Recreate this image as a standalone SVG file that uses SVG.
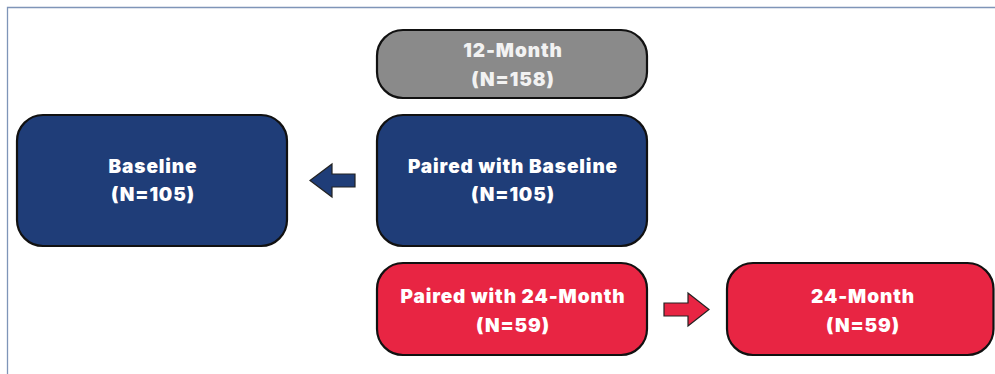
<svg xmlns="http://www.w3.org/2000/svg" width="995" height="374" viewBox="0 0 995 374">
<style>
.box{stroke:#111;stroke-width:2.2}
.gray{fill:#8a8a8a}
.blue{fill:#1f3d78}
.red{fill:#e82543}
text{font-family:Inter,"Noto Sans",sans-serif;font-weight:900;font-size:19px;letter-spacing:0.9px;fill:#fff;text-anchor:middle}
.g{fill:#f2f2f2}
.arr{stroke:#222;stroke-width:1.2}
</style>
<rect width="995" height="374" fill="#fff"/>
<path d="M7.5,374 V7.5 H995" fill="none" stroke="#7f95b8" stroke-width="1.3"/>
<g id="n12month">
<rect class="box gray" x="377" y="30" width="270" height="68" rx="26"/>
<text class="g" x="513" y="57">12-Month</text>
<text class="g" x="513" y="86">(N=158)</text>
</g>
<g id="baseline">
<rect class="box blue" x="17" y="115" width="270" height="131" rx="26"/>
<text x="153" y="173">Baseline</text>
<text x="153" y="201">(N=105)</text>
</g>
<g id="pairedBaseline">
<rect class="box blue" x="377" y="115" width="270" height="131" rx="26"/>
<text x="513" y="173">Paired with Baseline</text>
<text x="513" y="201">(N=105)</text>
</g>
<g id="paired24">
<rect class="box red" x="377" y="263" width="270" height="92" rx="26"/>
<text x="513" y="303">Paired with 24-Month</text>
<text x="513" y="332">(N=59)</text>
</g>
<g id="month24">
<rect class="box red" x="727" y="263" width="266.5" height="92" rx="26"/>
<text x="863" y="303">24-Month</text>
<text x="863" y="332">(N=59)</text>
</g>
<g id="connectors">
<polygon class="arr blue" points="310,180.5 332,164 332,174 355,174 355,187 332,187 332,197"/>
<polygon class="arr red" points="709,309.5 688,293 688,303 664,303 664,316 688,316 688,326"/>
</g>
</svg>
